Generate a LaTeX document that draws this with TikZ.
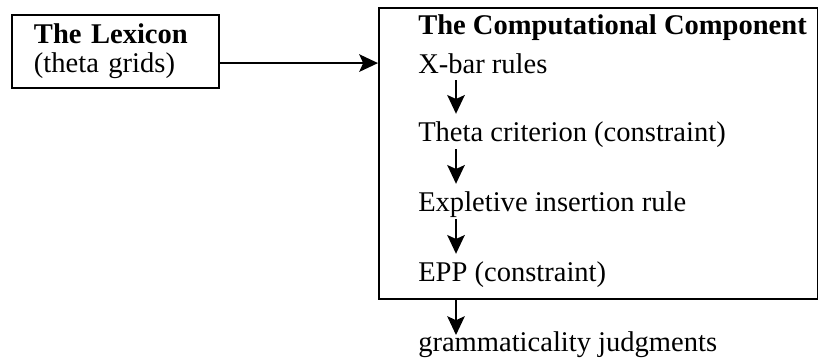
\documentclass[tikz,border=0pt]{standalone}
\usepackage{fontspec}
\setmainfont{Liberation Serif}
\usepackage{tikz}
\usetikzlibrary{arrows.meta,positioning}
\tikzset{
  boxln/.style  ={draw, line width=1.4pt},
  lexbox/.style ={boxln, align=left, minimum width=5.175cm,
                  minimum height=1.825cm, text width=4.075cm,
                  inner xsep=0.55cm, inner ysep=0pt},
  compbox/.style={boxln, minimum width=10.975cm, minimum height=7.275cm,
                  inner sep=0pt},
  stepnode/.style={anchor=base west, inner sep=0pt},
  arr/.style    ={-{Stealth[length=0.47cm,width=0.44cm,inset=0.1cm]}, line width=1.1pt},
}
\begin{document}
\begin{tikzpicture}[font=\fontsize{20.3}{20.6}\selectfont]
  \useasboundingbox (0,0) rectangle (20.45,-8.95);
  \node[lexbox, anchor=north west] (lex) at (0.275,-0.35)
    {\textbf{The Lexicon}\\(theta grids)};
  \node[compbox, anchor=north west] (comp) at (9.45,-0.175) {};
  \node[stepnode] (title) at (10.45,-0.875) {\textbf{The Computational Component}};
  \node[stepnode, below=0.95cm of title.base west, anchor=base west] (xbar) {X-bar rules};
  \node[stepnode, below=1.72cm of xbar.base west, anchor=base west] (theta) {Theta criterion (constraint)};
  \node[stepnode, below=1.75cm of theta.base west, anchor=base west] (expl) {Expletive insertion rule};
  \node[stepnode, below=1.75cm of expl.base west, anchor=base west] (epp) {EPP (constraint)};
  \node[stepnode, below=1.75cm of epp.base west, anchor=base west] (gram) {grammaticality judgments};
  % lexicon feeds the computation
  \draw[arr] ([yshift=-0.29cm]lex.east) -- ([yshift=-0.29cm]lex.east -| comp.west);
  % steps inside the box
  \foreach \a/\b in {xbar/theta, theta/expl, expl/epp}
    \draw[arr] ([xshift=0.95cm,yshift=-0.18cm]\a.base west) -- ([xshift=0.95cm,yshift=0.7cm]\b.base west);
  \draw[arr] ([xshift=0.95cm]gram.base west |- comp.south) -- ([xshift=0.95cm,yshift=0.42cm]gram.base west);
\end{tikzpicture}
\end{document}
